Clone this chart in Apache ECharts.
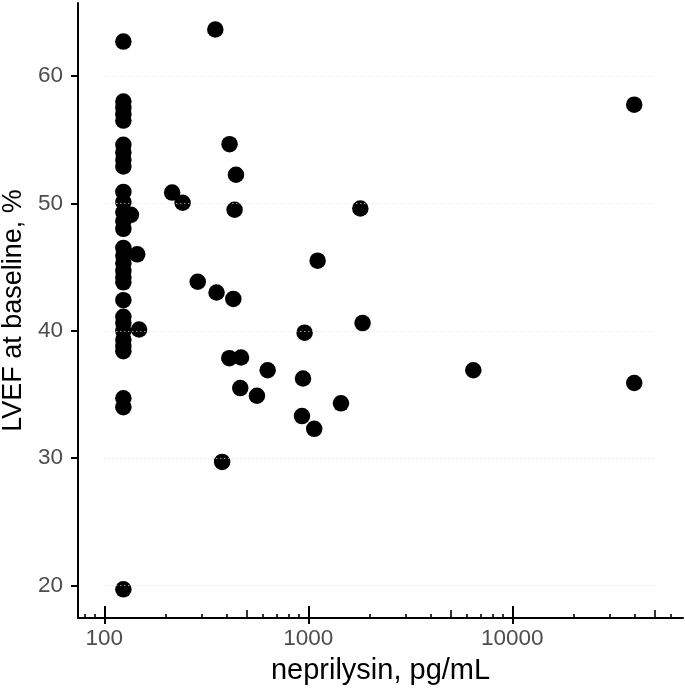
<!DOCTYPE html>
<html><head><meta charset="utf-8">
<script src="https://cdn.jsdelivr.net/npm/echarts@6/dist/echarts.min.js"></script>
<style>html,body{margin:0;padding:0;background:#fff}#c{width:685px;height:694px}</style>
</head><body><div id="c"></div>
<script>
// neprilysin (pg/mL) and LVEF at baseline (%)
const neprilysin = [
  124,124,124,124,124,124,124,124,124,124,
  124,124,124,124,124,124,124,124,124,124,
  124,124,124,124,124,124,124,124,124,124,
  135,145,148,215,242,287,350,355,378,410,
  411,429,435,442,464,468,560,632,931,942,
  959,1069,1111,1446,1799,1845,6440,39600,39600
];
const lvef = [
  62.7,58.0,57.5,57.0,56.5,54.6,54.0,53.4,52.9,50.9,
  50.1,49.3,48.6,48.0,46.5,45.9,45.3,44.7,44.2,43.8,
  42.4,41.1,40.6,40.0,39.3,38.8,38.4,34.7,34.0,19.7,
  49.1,46.0,40.1,50.85,50.05,43.85,63.65,43.0,29.7,37.85,
  54.65,42.5,49.5,52.25,35.5,37.9,34.9,36.9,33.3,36.25,
  39.85,32.3,45.5,34.3,49.6,40.6,36.9,57.75,35.9
];
const xMajorTicks = [100, 1000, 10000];
const xMidTicks = [500, 5000, 50000];
const xMinorTicks = [80, 90, 200, 300, 400, 600, 700, 800, 900,
  2000, 3000, 4000, 6000, 7000, 8000, 9000, 20000, 30000, 40000, 60000];
const yTicks = [20, 30, 40, 50, 60];
const gridSpan = [100, 50000];

const X_MIN = 74.3, X_MAX = 68680, Y_MIN = 17.45, Y_MAX = 65.73;
const FONT = 'Liberation Sans, Arial, Helvetica, sans-serif';

function tickAxis(values, len, inside, width, extra) {
  return Object.assign({
    type: 'log', logBase: 10, min: X_MIN, max: X_MAX, gridIndex: 0, position: 'bottom',
    axisLine: { show: false },
    axisTick: { show: true, inside: inside, length: len, customValues: values,
      lineStyle: { color: '#000', width: width } },
    axisLabel: { show: false },
    splitLine: { show: false }
  }, extra || {});
}

const points = neprilysin.map((x, i) => [x, lvef[i]]);
const gridLines = yTicks.map(v => [{ coord: [gridSpan[0], v] }, { coord: [gridSpan[1], v] }]);

const chart = echarts.init(document.getElementById('c'), null, { renderer: 'canvas' });
chart.setOption({
  animation: false,
  backgroundColor: '#fff',
  grid: { left: 78, right: 2, top: 3, bottom: 76, containLabel: false, outerBoundsMode: 'none' },
  xAxis: [
    {
      type: 'log', logBase: 10, min: X_MIN, max: X_MAX, position: 'bottom',
      name: 'neprilysin, pg/mL', nameLocation: 'middle', nameGap: 38,
      nameTextStyle: { color: '#000', fontSize: 29, fontFamily: FONT },
      axisLine: { show: true, lineStyle: { color: '#000', width: 2 } },
      axisTick: { show: true, inside: false, length: 6, customValues: xMajorTicks,
        lineStyle: { color: '#000', width: 2 } },
      axisLabel: { show: true, customValues: xMajorTicks, margin: 9, color: '#4d4d4d',
        fontSize: 22.5, fontFamily: FONT, formatter: v => String(Math.round(v)) },
      splitLine: { show: false }, minorTick: { show: false }
    },
    tickAxis(xMajorTicks, 12, true, 2),
    tickAxis(xMidTicks, 8, true, 1.6),
    tickAxis(xMinorTicks, 4, true, 1.6)
  ],
  yAxis: {
    type: 'value', min: Y_MIN, max: Y_MAX,
    name: 'LVEF at baseline, %', nameLocation: 'middle', nameGap: 37,
    nameTextStyle: { color: '#000', fontSize: 27, fontFamily: FONT },
    axisLine: { show: true, lineStyle: { color: '#000', width: 2 } },
    axisTick: { show: true, inside: false, length: 7, customValues: yTicks,
      lineStyle: { color: '#000', width: 2 } },
    axisLabel: { show: true, customValues: yTicks, margin: 15, color: '#4d4d4d',
      fontSize: 22.5, fontFamily: FONT, formatter: v => String(Math.round(v)) },
    splitLine: { show: false }
  },
  series: [
    {
      type: 'scatter', xAxisIndex: 0, yAxisIndex: 0, data: [], z: 1, silent: true,
      markLine: {
        silent: true, symbol: ['none', 'none'], label: { show: false },
        lineStyle: { color: '#d9d9d9', type: [1, 3], width: 1 },
        emphasis: { disabled: true },
        data: gridLines
      }
    },
    {
      type: 'scatter', xAxisIndex: 0, yAxisIndex: 0, data: points, z: 3,
      symbol: 'circle', symbolSize: 16.5,
      itemStyle: { color: '#000', opacity: 1 }
    }
  ]
});
</script>
</body></html>
